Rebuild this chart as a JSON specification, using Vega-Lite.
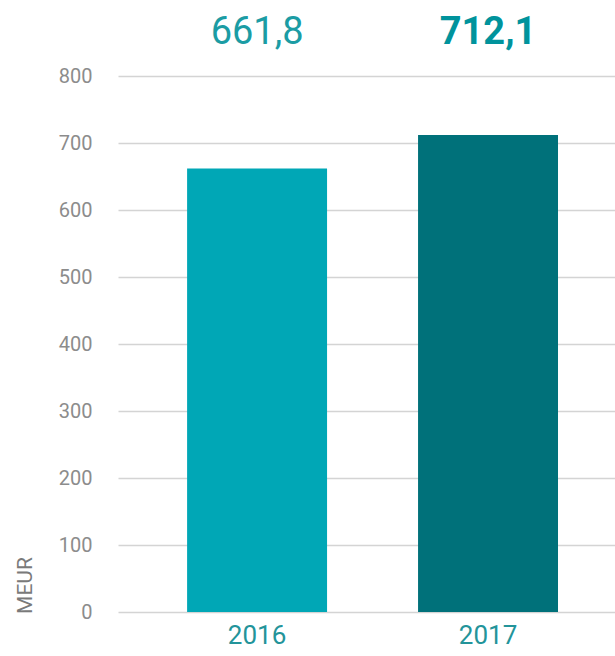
{
  "$schema": "https://vega.github.io/schema/vega-lite/v6.json",
  "autosize": "none",
  "width": 497,
  "height": 603,
  "padding": {"left": 118, "top": 9, "right": 0, "bottom": 44},
  "background": "white",
  "config": {"view": {"stroke": null}, "font": "Roboto"},
  "data": {"values": [
    {"year": "2016", "value": 661.8, "label": "661,8"},
    {"year": "2017", "value": 712.1, "label": "712,1"}
  ]},
  "encoding": {
    "x": {
      "field": "year", "type": "nominal",
      "scale": {"paddingInner": 0.394, "paddingOuter": 0.273, "align": 0.548},
      "axis": {"title": null, "labelAngle": 0, "domain": false, "ticks": false,
               "labelFontSize": 26, "labelColor": "#23949a", "labelPadding": 10,
               "labelFont": "Roboto"}
    }
  },
  "layer": [
    {
      "mark": {"type": "bar"},
      "encoding": {
        "y": {
          "field": "value", "type": "quantitative",
          "scale": {"domain": [0, 900], "nice": false},
          "axis": {"values": [0, 100, 200, 300, 400, 500, 600, 700, 800],
                   "domain": false, "ticks": false, "grid": true,
                   "gridColor": "#d4d4d4", "gridWidth": 1.5,
                   "labelColor": "#8c8c8c", "labelFontSize": 20, "labelPadding": 26,
                   "title": "MEUR", "titleColor": "#7a7a7a", "titleFontSize": 21,
                   "titleFontWeight": "normal", "titleAngle": -90,
                   "titleX": -93, "titleY": 576, "titleAlign": "center", "titleBaseline": "middle"}
        },
        "color": {"field": "year", "type": "nominal",
                  "scale": {"domain": ["2016", "2017"], "range": ["#00a7b6", "#00717a"]},
                  "legend": null}
      }
    },
    {
      "transform": [{"filter": "datum.year == '2016'"}],
      "mark": {"type": "text", "fontSize": 38, "baseline": "middle", "align": "center", "color": "#1b9ca4", "fontWeight": "normal"},
      "encoding": {
        "y": {"datum": 864, "type": "quantitative"},
        "text": {"field": "label"}
      }
    },
    {
      "transform": [{"filter": "datum.year == '2017'"}],
      "mark": {"type": "text", "fontSize": 38, "baseline": "middle", "align": "center", "color": "#00939c", "fontWeight": "bold"},
      "encoding": {
        "y": {"datum": 864, "type": "quantitative"},
        "text": {"field": "label"}
      }
    }
  ]
}
